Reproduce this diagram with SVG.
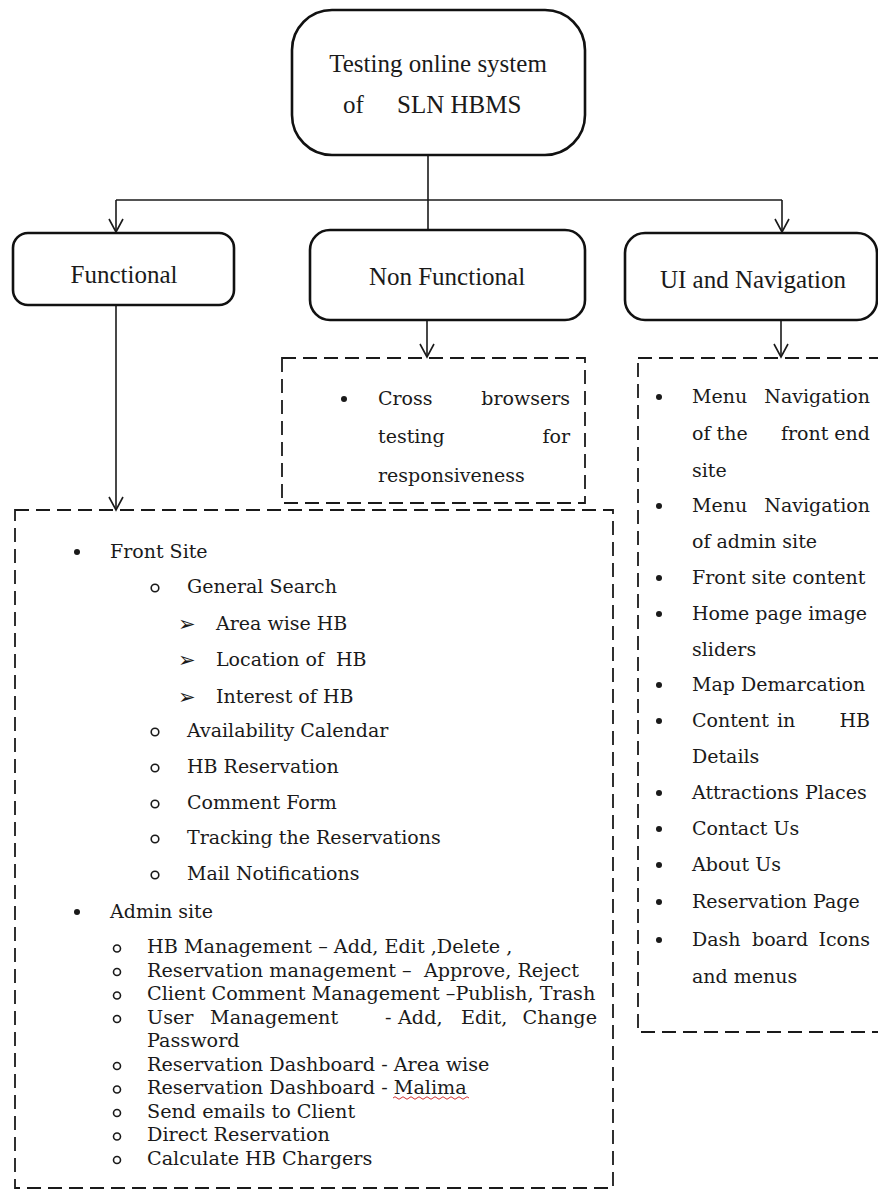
<svg xmlns="http://www.w3.org/2000/svg" width="878" height="1193" viewBox="0 0 878 1193">
  <style>
    .box { fill: #ffffff; stroke: #111111; stroke-width: 2.6; }
    .dash { fill: none; stroke: #1a1a1a; stroke-width: 1.8; stroke-dasharray: 14 7; }
    .conn { fill: none; stroke: #1a1a1a; stroke-width: 1.6; }
    .head { font-family: "Liberation Serif", "Times New Roman", serif; font-size: 25px; fill: #1a1a1a; }
    .item { font-family: "DejaVu Serif", "Liberation Serif", serif; font-size: 19px; fill: #1a1a1a; white-space: pre; }
    .small { font-family: "DejaVu Serif", "Liberation Serif", serif; font-size: 19.2px; fill: #1a1a1a; white-space: pre; }
    .arrowb { font-family: "DejaVu Sans", sans-serif; font-size: 21px; fill: #1a1a1a; }
    .dot { fill: #1a1a1a; }
    .ring { fill: none; stroke: #1a1a1a; stroke-width: 1.6; }
  </style>
  <defs>
    <marker id="vhead" markerUnits="userSpaceOnUse" markerWidth="16" markerHeight="16" refX="0" refY="0" orient="auto" overflow="visible">
      <path d="M-13,-7 L0,0 L-13,7" fill="none" stroke="#1a1a1a" stroke-width="1.6"/>
    </marker>
  </defs>

  <rect width="878" height="1193" fill="#ffffff"/>

  <!-- connectors -->
  <g id="connectors">
    <line class="conn" x1="428" y1="155" x2="428" y2="230"/>
    <line class="conn" x1="116" y1="200" x2="782" y2="200"/>
    <line class="conn" x1="116" y1="200" x2="116" y2="232" marker-end="url(#vhead)"/>
    <line class="conn" x1="782" y1="200" x2="782" y2="232" marker-end="url(#vhead)"/>
    <line class="conn" x1="116" y1="305" x2="116" y2="510" marker-end="url(#vhead)"/>
    <line class="conn" x1="427" y1="320" x2="427" y2="357" marker-end="url(#vhead)"/>
    <line class="conn" x1="781" y1="320" x2="781" y2="357" marker-end="url(#vhead)"/>
  </g>

  <!-- root -->
  <g id="root">
    <rect class="box" x="292" y="10" width="293" height="145" rx="40" ry="40"/>
    <text class="head" x="438" y="72" text-anchor="middle">Testing online system</text>
    <text class="head" x="343" y="113">of</text>
    <text class="head" x="397" y="113">SLN HBMS</text>
  </g>

  <!-- category nodes -->
  <g id="functional">
    <rect class="box" x="13" y="233" width="221" height="72" rx="15" ry="15"/>
    <text class="head" x="124" y="283" text-anchor="middle">Functional</text>
  </g>
  <g id="non-functional">
    <rect class="box" x="310" y="230" width="275" height="90" rx="20" ry="20"/>
    <text class="head" x="447" y="285" text-anchor="middle">Non Functional</text>
  </g>
  <g id="ui-navigation">
    <rect class="box" x="625" y="233" width="252" height="87" rx="20" ry="20"/>
    <text class="head" x="753" y="288" text-anchor="middle">UI and Navigation</text>
  </g>

  <!-- non functional details -->
  <g id="non-functional-list">
    <rect class="dash" x="282" y="358" width="303" height="145"/>
    <circle class="dot" cx="344" cy="399" r="3"/>
    <text class="item" x="378" y="405">Cross</text>
    <text class="item" x="570" y="405" text-anchor="end">browsers</text>
    <text class="item" x="378" y="443">testing</text>
    <text class="item" x="570" y="443" text-anchor="end">for</text>
    <text class="item" x="378" y="482">responsiveness</text>
  </g>

  <!-- functional details -->
  <g id="functional-list">
    <rect class="dash" x="15" y="510" width="598" height="678"/>

    <circle class="dot" cx="77" cy="552" r="3"/>
    <text class="item" x="110" y="558">Front Site</text>

    <circle class="ring" cx="155" cy="588" r="3.8"/>
    <text class="item" x="187" y="593">General Search</text>
    <text class="arrowb" x="178" y="631">➢</text>
    <text class="item" x="216" y="630">Area wise HB</text>
    <text class="arrowb" x="178" y="667">➢</text>
    <text class="item" x="216" y="666">Location of  HB</text>
    <text class="arrowb" x="178" y="704">➢</text>
    <text class="item" x="216" y="703">Interest of HB</text>
    <circle class="ring" cx="155" cy="732" r="3.8"/>
    <text class="item" x="187" y="737">Availability Calendar</text>
    <circle class="ring" cx="155" cy="768" r="3.8"/>
    <text class="item" x="187" y="773">HB Reservation</text>
    <circle class="ring" cx="155" cy="804" r="3.8"/>
    <text class="item" x="187" y="809">Comment Form</text>
    <circle class="ring" cx="155" cy="839" r="3.8"/>
    <text class="item" x="187" y="844">Tracking the Reservations</text>
    <circle class="ring" cx="155" cy="875" r="3.8"/>
    <text class="item" x="187" y="880">Mail Notifications</text>

    <circle class="dot" cx="77" cy="912" r="3"/>
    <text class="item" x="110" y="918">Admin site</text>

    <circle class="ring" cx="117" cy="948.5" r="3.5"/>
    <text class="small" x="147" y="953">HB Management – Add, Edit ,Delete ,</text>
    <circle class="ring" cx="117" cy="972" r="3.5"/>
    <text class="small" x="147" y="976.5">Reservation management –  Approve, Reject</text>
    <circle class="ring" cx="117" cy="995.5" r="3.5"/>
    <text class="small" x="147" y="1000">Client Comment Management –Publish, Trash</text>
    <circle class="ring" cx="117" cy="1019" r="3.5"/>
    <text class="small" y="1023.5"><tspan x="147">User</tspan><tspan x="210">Management</tspan><tspan x="385">-</tspan><tspan x="398">Add,</tspan><tspan x="461">Edit,</tspan></text>
    <text class="small" x="597" y="1023.5" text-anchor="end">Change</text>
    <text class="small" x="147" y="1047">Password</text>
    <circle class="ring" cx="117" cy="1066" r="3.5"/>
    <text class="small" x="147" y="1070.5">Reservation Dashboard - Area wise</text>
    <circle class="ring" cx="117" cy="1089.5" r="3.5"/>
    <text class="small" x="147" y="1094">Reservation Dashboard - <tspan id="malima">Malima</tspan></text>
    <path d="M393,1098 q2,-2.5 4,0 t4,0 t4,0 t4,0 t4,0 t4,0 t4,0 t4,0 t4,0 t4,0 t4,0 t4,0 t4,0 t4,0 t4,0 t4,0 t4,0 t4,0 t4,0" fill="none" stroke="#d23030" stroke-width="1"/>
    <circle class="ring" cx="117" cy="1113" r="3.5"/>
    <text class="small" x="147" y="1117.5">Send emails to Client</text>
    <circle class="ring" cx="117" cy="1136.5" r="3.5"/>
    <text class="small" x="147" y="1141">Direct Reservation</text>
    <circle class="ring" cx="117" cy="1160" r="3.5"/>
    <text class="small" x="147" y="1164.5">Calculate HB Chargers</text>
  </g>

  <!-- UI and navigation details -->
  <g id="ui-list">
    <rect class="dash" x="638" y="358" width="270" height="674"/>

    <circle class="dot" cx="659" cy="397" r="3"/>
    <text class="item" x="692" y="403">Menu</text>
    <text class="item" x="870" y="403" text-anchor="end">Navigation</text>
    <text class="item" x="692" y="440">of the</text>
    <text class="item" x="870" y="440" text-anchor="end">front end</text>
    <text class="item" x="692" y="477">site</text>

    <circle class="dot" cx="659" cy="506" r="3"/>
    <text class="item" x="692" y="512">Menu</text>
    <text class="item" x="870" y="512" text-anchor="end">Navigation</text>
    <text class="item" x="692" y="548">of admin site</text>

    <circle class="dot" cx="659" cy="578" r="3"/>
    <text class="item" x="692" y="584">Front site content</text>

    <circle class="dot" cx="659" cy="614" r="3"/>
    <text class="item" x="692" y="620">Home page image</text>
    <text class="item" x="692" y="656">sliders</text>

    <circle class="dot" cx="659" cy="685" r="3"/>
    <text class="item" x="692" y="691">Map Demarcation</text>

    <circle class="dot" cx="659" cy="721" r="3"/>
    <text class="item" x="692" y="727">Content</text>
    <text class="item" x="777" y="727">in</text>
    <text class="item" x="870" y="727" text-anchor="end">HB</text>
    <text class="item" x="692" y="763">Details</text>

    <circle class="dot" cx="659" cy="793" r="3"/>
    <text class="item" x="692" y="799">Attractions Places</text>

    <circle class="dot" cx="659" cy="829" r="3"/>
    <text class="item" x="692" y="835">Contact Us</text>

    <circle class="dot" cx="659" cy="865" r="3"/>
    <text class="item" x="692" y="871">About Us</text>

    <circle class="dot" cx="659" cy="902" r="3"/>
    <text class="item" x="692" y="908">Reservation Page</text>

    <circle class="dot" cx="659" cy="940" r="3"/>
    <text class="item" x="692" y="946">Dash</text>
    <text class="item" x="752" y="946">board</text>
    <text class="item" x="870" y="946" text-anchor="end">Icons</text>
    <text class="item" x="692" y="983">and menus</text>
  </g>
</svg>
